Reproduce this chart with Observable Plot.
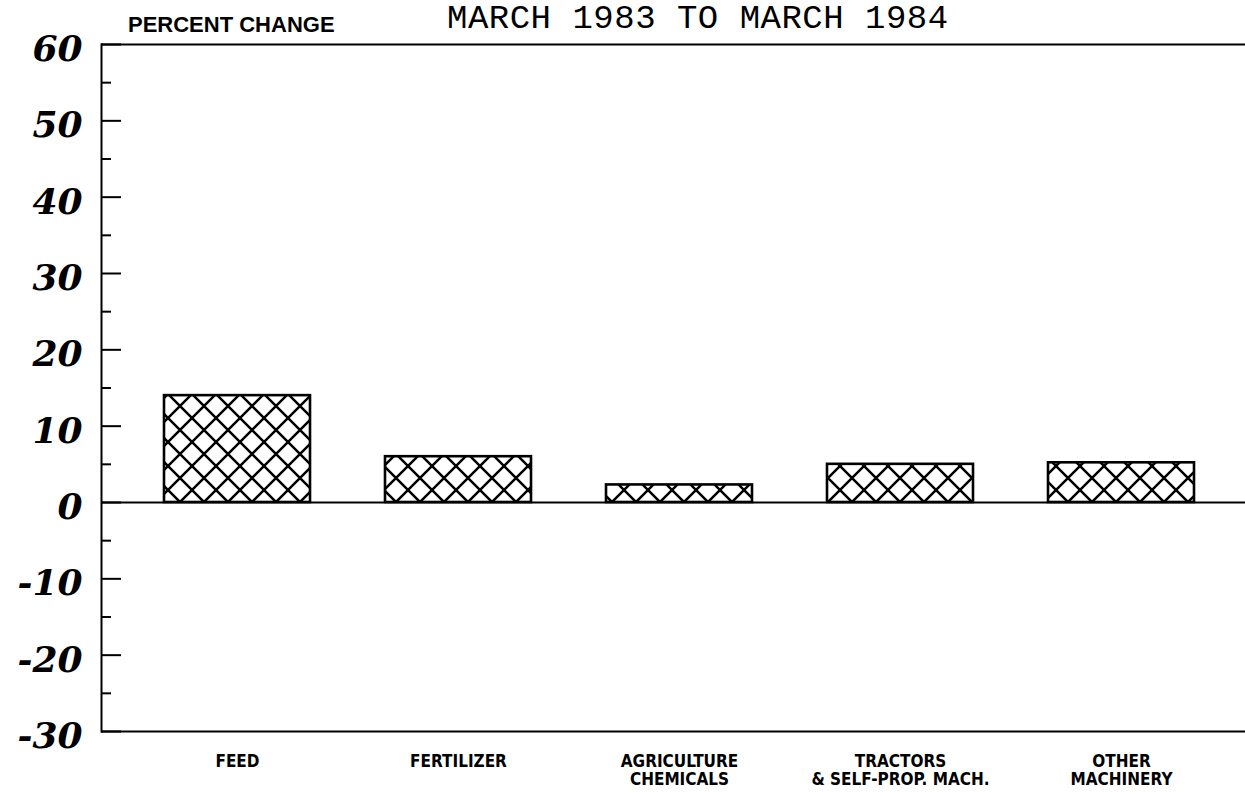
<!DOCTYPE html>
<html><head><meta charset="utf-8">
<script src="https://cdn.jsdelivr.net/npm/d3@7"></script>
<script src="https://cdn.jsdelivr.net/npm/@observablehq/plot@0.6"></script>
<style>
body{margin:0;background:#fff;}
#wrap{position:relative;width:1245px;height:792px;overflow:hidden;background:#fff;}
#chart{position:absolute;left:0;top:0;}
#title{position:absolute;left:447px;top:2px;font-family:"Liberation Mono","DejaVu Sans Mono",monospace;font-size:34px;letter-spacing:0.5px;line-height:1;white-space:nowrap;color:#000;}
#ylab{position:absolute;left:128px;top:14px;font-family:"Liberation Sans",Arial,sans-serif;font-weight:bold;font-size:22px;line-height:1;white-space:nowrap;color:#000;}
</style></head>
<body><div id="wrap">
<svg width="0" height="0" style="position:absolute"><defs>
<pattern id="hatch" patternUnits="userSpaceOnUse" width="24" height="24" x="0" y="10">
<rect width="24" height="24" fill="#fff"/>
<path d="M0,0L24,24M0,24L24,0M-6,6L6,-6M18,30L30,18M-6,18L6,30M18,-6L30,6" stroke="#000" stroke-width="2.5" fill="none"/>
</pattern></defs></svg>
<div id="chart"></div>
<div id="title">MARCH 1983 TO MARCH 1984</div>
<div id="ylab">PERCENT CHANGE</div>
</div>
<script>
const categories = ["FEED", "FERTILIZER", "AGRICULTURE CHEMICALS", "TRACTORS & SELF-PROP. MACH.", "OTHER MACHINERY"];
const tickLabels = ["FEED", "FERTILIZER", "AGRICULTURE\nCHEMICALS", "TRACTORS\n& SELF-PROP. MACH.", "OTHER\nMACHINERY"];
const values = [14.0, 6.0, 2.3, 5.0, 5.2];
const majorTicks = [-30, -20, -10, 0, 10, 20, 30, 40, 50, 60];
const minorTicks = [-25, -15, -5, 5, 15, 25, 35, 45, 55];
const frameLines = [60, 0, -30];

const W = 1245, H = 792, ML = 101, MR = 0, MT = 44, MB = 61;
const innerW = W - ML - MR;
const data = categories.map((c, i) => ({cat: c, value: values[i]}));
const yFont = {fontFamily: "'DejaVu Serif', serif", fontSize: 36, fontStyle: "italic", fontWeight: "bold"};

const plot = Plot.plot({
  width: W, height: H,
  marginTop: MT, marginBottom: MB, marginLeft: ML, marginRight: MR,
  style: {background: "transparent", color: "#000"},
  x: {domain: categories, range: [ML, 1257], paddingInner: 0.34, paddingOuter: 0.274, align: 0.5, label: null},
  y: {domain: [-30, 60], label: null},
  marks: [
    Plot.barY(data, {x: "cat", y: "value", fill: "url(#hatch)", stroke: "#000", strokeWidth: 2.6}),
    Plot.ruleY(frameLines, {stroke: "#000", strokeWidth: 2}),
    Plot.frame({anchor: "left", stroke: "#000", strokeWidth: 2}),
    Plot.ruleY(majorTicks, {stroke: "#000", strokeWidth: 2, insetRight: innerW - 20}),
    Plot.ruleY(minorTicks, {stroke: "#000", strokeWidth: 2, insetRight: innerW - 10}),
    Plot.axisY({ticks: majorTicks, tickSize: 0, tickPadding: 19, tickFormat: d => String(d), dy: 5, label: null, ...yFont}),
    Plot.axisX({tickSize: 0, tickPadding: 22, tickFormat: d => tickLabels[categories.indexOf(d)],
      fontFamily: "'Liberation Sans Narrow','DejaVu Sans Condensed',sans-serif", fontWeight: "bold", fontSize: 17, lineHeight: 1.1, label: null})
  ]
});
document.getElementById("chart").appendChild(plot);
</script>
</body></html>
